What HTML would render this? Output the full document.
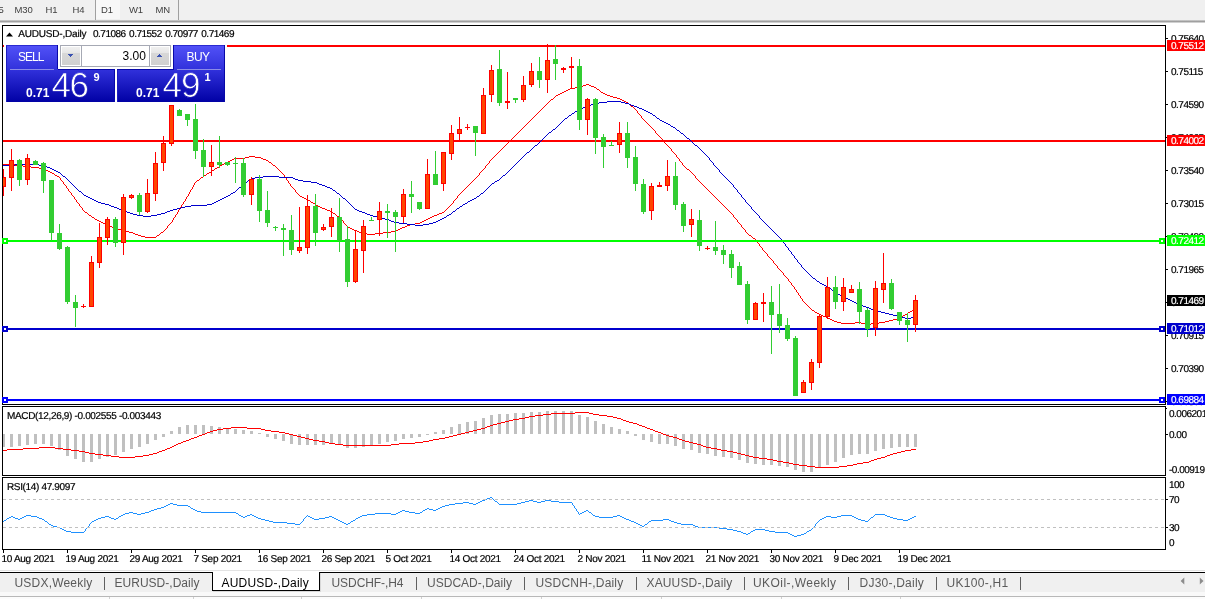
<!DOCTYPE html>
<html><head><meta charset="utf-8"><title>AUDUSD-,Daily</title>
<style>
html,body{margin:0;padding:0;background:#fff;}
body{width:1205px;height:599px;overflow:hidden;position:relative;font-family:"Liberation Sans",sans-serif;}
#toolbar{position:absolute;left:0;top:0;width:1205px;height:20px;background:#f0f0f0;}
#tbline{position:absolute;left:0;top:20px;width:1205px;height:3px;background:linear-gradient(#d4d4d4,#a0a0a0 50%,#e8e8e8);}
.tbt{position:absolute;top:3.6px;font-size:9.5px;line-height:12px;color:#404040;white-space:nowrap;letter-spacing:-0.15px;}
.vsep{position:absolute;top:0;width:1px;height:20px;background:#a0a0a0;}
#d1bg{position:absolute;left:96px;top:0;width:24px;height:19px;background:#f8f8f8;}
svg{position:absolute;left:0;top:0;}
#panelbg{position:absolute;left:4px;top:42px;width:223px;height:61px;background:#fff;}
.pb{position:absolute;background:linear-gradient(#5252f8 0px,#3232dc 24px,#0202a6 56px);background-size:100% 57px;box-shadow:inset 1px 0 0 #1c1cc0;}
.ptxt{position:absolute;color:#fff;white-space:nowrap;}
#tabbar{position:absolute;left:0;top:570px;width:1205px;height:29px;background:#f0f0f0;}
.tab{position:absolute;top:6px;font-size:12px;line-height:14px;color:#5a5a5a;white-space:nowrap;}
.tab.act{color:#000;}
.sep{position:absolute;top:7px;width:1px;height:13px;background:#606060;}
</style></head><body>
<div id="toolbar"><div id="d1bg"></div><i class="vsep" style="left:95px"></i><i class="vsep" style="left:178px"></i><span class="tbt" id="tb0" style="left:-1.6px">5</span><span class="tbt" id="tb1" style="left:14.5px">M30</span><span class="tbt" id="tb2" style="left:45.5px">H1</span><span class="tbt" id="tb3" style="left:72.5px">H4</span><span class="tbt" id="tb4" style="left:101px">D1</span><span class="tbt" id="tb5" style="left:129px">W1</span><span class="tbt" id="tb6" style="left:155.5px">MN</span></div>
<div id="tbline"></div>
<svg width="1205" height="599" viewBox="0 0 1205 599" shape-rendering="crispEdges">
<rect x="2" y="25" width="1164" height="1" fill="#000"/>
<rect x="2" y="404" width="1164" height="1" fill="#000"/>
<rect x="2" y="25" width="1" height="380" fill="#000"/>
<rect x="1165" y="25" width="1" height="380" fill="#000"/>
<rect x="2" y="406" width="1164" height="1" fill="#000"/>
<rect x="2" y="475" width="1164" height="1" fill="#000"/>
<rect x="2" y="406" width="1" height="70" fill="#000"/>
<rect x="1165" y="406" width="1" height="70" fill="#000"/>
<rect x="2" y="477" width="1164" height="1" fill="#000"/>
<rect x="2" y="549" width="1164" height="1" fill="#000"/>
<rect x="2" y="477" width="1" height="73" fill="#000"/>
<rect x="1165" y="477" width="1" height="73" fill="#000"/>
<rect x="3" y="45" width="1162" height="2" fill="#ff0000"/>
<rect x="3" y="140" width="1162" height="2" fill="#ff0000"/>
<path d="M586 84h3v1h-3zM583 85h3v1h-3zM589 85h2v1h-2zM581 86h2v1h-2zM591 86h3v1h-3zM575 87h6v1h-6zM594 87h2v1h-2zM570 88h5v1h-5zM596 88h1v1h-1zM568 89h2v1h-2zM597 89h2v1h-2zM566 90h2v1h-2zM599 90h1v1h-1zM564 91h2v1h-2zM600 91h1v1h-1zM562 92h2v1h-2zM601 92h2v1h-2zM560 93h2v1h-2zM603 93h2v1h-2zM558 94h2v1h-2zM605 94h2v1h-2zM556 95h2v1h-2zM607 95h3v1h-3zM555 96h1v1h-1zM610 96h3v1h-3zM554 97h1v1h-1zM613 97h4v1h-4zM553 98h1v1h-1zM617 98h3v1h-3zM551 99h2v1h-2zM620 99h2v1h-2zM550 100h1v1h-1zM622 100h2v1h-2zM549 101h1v1h-1zM624 101h2v1h-2zM548 102h1v1h-1zM626 102h2v1h-2zM547 103h1v1h-1zM628 103h1v1h-1zM546 104h1v1h-1zM629 104h1v1h-1zM545 105h1v1h-1zM630 105h1v1h-1zM544 106h1v1h-1zM631 106h2v1h-2zM543 107h1v1h-1zM633 107h1v1h-1zM542 108h1v1h-1zM634 108h1v1h-1zM541 109h1v1h-1zM635 109h1v1h-1zM540 110h1v1h-1zM636 110h1v1h-1zM539 111h1v1h-1zM637 111h1v1h-1zM538 112h1v1h-1zM637 112h1v1h-1zM537 113h1v1h-1zM638 113h1v1h-1zM536 114h1v1h-1zM639 114h1v1h-1zM535 115h1v1h-1zM640 115h1v1h-1zM534 116h1v1h-1zM641 116h1v1h-1zM533 117h1v1h-1zM641 117h1v1h-1zM532 118h1v1h-1zM642 118h1v1h-1zM531 119h1v1h-1zM643 119h1v1h-1zM530 120h1v1h-1zM644 120h1v1h-1zM529 121h1v1h-1zM645 121h1v1h-1zM528 122h1v1h-1zM646 122h1v1h-1zM527 123h1v1h-1zM647 123h1v1h-1zM526 124h1v1h-1zM648 124h1v1h-1zM525 125h1v1h-1zM649 125h1v1h-1zM524 126h1v1h-1zM650 126h1v1h-1zM523 127h1v1h-1zM651 127h1v1h-1zM522 128h1v1h-1zM652 128h1v1h-1zM521 129h1v1h-1zM653 129h1v1h-1zM520 130h1v1h-1zM654 130h1v1h-1zM519 131h1v1h-1zM655 131h1v1h-1zM518 132h1v1h-1zM655 132h1v1h-1zM517 133h1v1h-1zM656 133h1v1h-1zM516 134h1v1h-1zM657 134h1v1h-1zM515 135h1v1h-1zM658 135h1v1h-1zM514 136h1v1h-1zM659 136h1v1h-1zM513 137h1v1h-1zM660 137h1v1h-1zM512 138h1v1h-1zM661 138h1v1h-1zM511 139h1v1h-1zM662 139h1v1h-1zM510 140h1v1h-1zM663 140h1v1h-1zM509 141h1v1h-1zM663 141h1v1h-1zM508 142h1v1h-1zM664 142h1v1h-1zM507 143h1v1h-1zM665 143h1v1h-1zM506 144h1v1h-1zM666 144h1v1h-1zM505 145h1v1h-1zM667 145h1v1h-1zM504 146h1v1h-1zM668 146h1v1h-1zM503 147h1v1h-1zM669 147h1v1h-1zM502 148h1v1h-1zM670 148h1v1h-1zM501 149h1v1h-1zM671 149h1v1h-1zM500 150h1v1h-1zM671 150h1v1h-1zM499 151h1v1h-1zM672 151h1v1h-1zM498 152h1v1h-1zM673 152h1v1h-1zM497 153h1v1h-1zM674 153h1v1h-1zM496 154h1v1h-1zM675 154h1v1h-1zM495 155h1v1h-1zM676 155h1v1h-1zM249 156h6v1h-6zM494 156h1v1h-1zM676 156h1v1h-1zM245 157h4v1h-4zM255 157h6v1h-6zM493 157h1v1h-1zM677 157h1v1h-1zM234 158h11v1h-11zM261 158h2v1h-2zM492 158h1v1h-1zM678 158h1v1h-1zM232 159h2v1h-2zM263 159h3v1h-3zM491 159h1v1h-1zM679 159h1v1h-1zM230 160h2v1h-2zM266 160h2v1h-2zM490 160h1v1h-1zM679 160h1v1h-1zM228 161h2v1h-2zM268 161h1v1h-1zM489 161h1v1h-1zM680 161h1v1h-1zM226 162h2v1h-2zM269 162h2v1h-2zM489 162h1v1h-1zM681 162h1v1h-1zM224 163h2v1h-2zM271 163h1v1h-1zM488 163h1v1h-1zM682 163h1v1h-1zM3 164h12v1h-12zM222 164h2v1h-2zM272 164h1v1h-1zM487 164h1v1h-1zM682 164h1v1h-1zM15 165h8v1h-8zM220 165h2v1h-2zM273 165h2v1h-2zM486 165h1v1h-1zM683 165h1v1h-1zM23 166h8v1h-8zM219 166h1v1h-1zM275 166h1v1h-1zM485 166h1v1h-1zM684 166h1v1h-1zM31 167h8v1h-8zM217 167h2v1h-2zM276 167h1v1h-1zM485 167h1v1h-1zM685 167h1v1h-1zM39 168h5v1h-5zM215 168h2v1h-2zM277 168h1v1h-1zM484 168h1v1h-1zM686 168h1v1h-1zM44 169h2v1h-2zM214 169h1v1h-1zM278 169h1v1h-1zM483 169h1v1h-1zM687 169h2v1h-2zM46 170h2v1h-2zM212 170h2v1h-2zM279 170h1v1h-1zM482 170h1v1h-1zM689 170h1v1h-1zM48 171h2v1h-2zM211 171h1v1h-1zM280 171h1v1h-1zM481 171h1v1h-1zM690 171h1v1h-1zM50 172h2v1h-2zM209 172h2v1h-2zM281 172h1v1h-1zM480 172h1v1h-1zM691 172h1v1h-1zM52 173h2v1h-2zM207 173h2v1h-2zM282 173h1v1h-1zM479 173h1v1h-1zM692 173h1v1h-1zM54 174h1v1h-1zM206 174h1v1h-1zM283 174h1v1h-1zM479 174h1v1h-1zM693 174h1v1h-1zM55 175h2v1h-2zM204 175h2v1h-2zM284 175h1v1h-1zM478 175h1v1h-1zM694 175h1v1h-1zM57 176h2v1h-2zM203 176h1v1h-1zM284 176h1v1h-1zM477 176h1v1h-1zM695 176h1v1h-1zM59 177h1v1h-1zM201 177h2v1h-2zM285 177h1v1h-1zM476 177h1v1h-1zM695 177h1v1h-1zM60 178h1v1h-1zM200 178h1v1h-1zM286 178h1v1h-1zM475 178h1v1h-1zM696 178h1v1h-1zM60 179h1v1h-1zM199 179h1v1h-1zM286 179h1v1h-1zM474 179h1v1h-1zM697 179h1v1h-1zM61 180h1v1h-1zM197 180h2v1h-2zM287 180h1v1h-1zM473 180h1v1h-1zM698 180h1v1h-1zM62 181h1v1h-1zM196 181h1v1h-1zM288 181h1v1h-1zM472 181h1v1h-1zM699 181h1v1h-1zM63 182h1v1h-1zM195 182h1v1h-1zM288 182h1v1h-1zM471 182h1v1h-1zM700 182h1v1h-1zM63 183h1v1h-1zM194 183h1v1h-1zM289 183h1v1h-1zM470 183h1v1h-1zM701 183h1v1h-1zM64 184h1v1h-1zM194 184h1v1h-1zM290 184h1v1h-1zM469 184h1v1h-1zM702 184h1v1h-1zM65 185h1v1h-1zM193 185h1v1h-1zM290 185h1v1h-1zM468 185h1v1h-1zM703 185h1v1h-1zM66 186h1v1h-1zM193 186h1v1h-1zM291 186h1v1h-1zM467 186h1v1h-1zM704 186h1v1h-1zM66 187h1v1h-1zM192 187h1v1h-1zM292 187h1v1h-1zM466 187h1v1h-1zM705 187h1v1h-1zM67 188h1v1h-1zM192 188h1v1h-1zM293 188h1v1h-1zM465 188h1v1h-1zM706 188h1v1h-1zM68 189h1v1h-1zM191 189h1v1h-1zM294 189h1v1h-1zM464 189h1v1h-1zM707 189h1v1h-1zM68 190h1v1h-1zM190 190h1v1h-1zM295 190h1v1h-1zM463 190h1v1h-1zM708 190h1v1h-1zM69 191h1v1h-1zM190 191h1v1h-1zM295 191h1v1h-1zM462 191h1v1h-1zM709 191h1v1h-1zM70 192h1v1h-1zM189 192h1v1h-1zM296 192h1v1h-1zM461 192h1v1h-1zM710 192h1v1h-1zM71 193h1v1h-1zM189 193h1v1h-1zM297 193h1v1h-1zM460 193h1v1h-1zM711 193h1v1h-1zM71 194h1v1h-1zM188 194h1v1h-1zM298 194h1v1h-1zM459 194h1v1h-1zM712 194h1v1h-1zM72 195h1v1h-1zM188 195h1v1h-1zM299 195h1v1h-1zM458 195h1v1h-1zM713 195h1v1h-1zM73 196h1v1h-1zM187 196h1v1h-1zM300 196h2v1h-2zM457 196h1v1h-1zM714 196h1v1h-1zM74 197h1v1h-1zM186 197h1v1h-1zM302 197h2v1h-2zM457 197h1v1h-1zM715 197h1v1h-1zM74 198h1v1h-1zM186 198h1v1h-1zM304 198h2v1h-2zM456 198h1v1h-1zM716 198h1v1h-1zM75 199h1v1h-1zM185 199h1v1h-1zM306 199h2v1h-2zM455 199h1v1h-1zM717 199h1v1h-1zM76 200h1v1h-1zM185 200h1v1h-1zM308 200h2v1h-2zM454 200h1v1h-1zM718 200h1v1h-1zM76 201h1v1h-1zM184 201h1v1h-1zM310 201h1v1h-1zM453 201h1v1h-1zM719 201h1v1h-1zM77 202h1v1h-1zM183 202h1v1h-1zM311 202h2v1h-2zM453 202h1v1h-1zM720 202h1v1h-1zM78 203h1v1h-1zM183 203h1v1h-1zM313 203h2v1h-2zM452 203h1v1h-1zM721 203h1v1h-1zM79 204h1v1h-1zM182 204h1v1h-1zM315 204h1v1h-1zM451 204h1v1h-1zM722 204h1v1h-1zM79 205h1v1h-1zM181 205h1v1h-1zM316 205h2v1h-2zM450 205h1v1h-1zM723 205h1v1h-1zM80 206h1v1h-1zM181 206h1v1h-1zM318 206h2v1h-2zM449 206h1v1h-1zM724 206h1v1h-1zM81 207h1v1h-1zM180 207h1v1h-1zM320 207h2v1h-2zM448 207h1v1h-1zM725 207h1v1h-1zM82 208h1v1h-1zM180 208h1v1h-1zM322 208h3v1h-3zM447 208h1v1h-1zM726 208h1v1h-1zM82 209h1v1h-1zM179 209h1v1h-1zM325 209h2v1h-2zM446 209h1v1h-1zM727 209h1v1h-1zM83 210h1v1h-1zM178 210h1v1h-1zM327 210h3v1h-3zM445 210h1v1h-1zM728 210h1v1h-1zM84 211h1v1h-1zM178 211h1v1h-1zM330 211h2v1h-2zM444 211h1v1h-1zM729 211h1v1h-1zM85 212h2v1h-2zM177 212h1v1h-1zM332 212h1v1h-1zM442 212h2v1h-2zM730 212h1v1h-1zM87 213h1v1h-1zM177 213h1v1h-1zM333 213h2v1h-2zM439 213h3v1h-3zM731 213h1v1h-1zM88 214h1v1h-1zM176 214h1v1h-1zM335 214h1v1h-1zM437 214h2v1h-2zM732 214h1v1h-1zM89 215h2v1h-2zM175 215h1v1h-1zM336 215h1v1h-1zM434 215h3v1h-3zM733 215h1v1h-1zM91 216h1v1h-1zM175 216h1v1h-1zM337 216h2v1h-2zM432 216h2v1h-2zM733 216h1v1h-1zM92 217h2v1h-2zM174 217h1v1h-1zM339 217h1v1h-1zM430 217h2v1h-2zM734 217h1v1h-1zM94 218h1v1h-1zM173 218h1v1h-1zM340 218h1v1h-1zM428 218h2v1h-2zM735 218h1v1h-1zM95 219h2v1h-2zM173 219h1v1h-1zM341 219h1v1h-1zM426 219h2v1h-2zM736 219h1v1h-1zM97 220h2v1h-2zM172 220h1v1h-1zM342 220h1v1h-1zM424 220h2v1h-2zM737 220h1v1h-1zM99 221h2v1h-2zM172 221h1v1h-1zM343 221h1v1h-1zM422 221h2v1h-2zM737 221h1v1h-1zM101 222h2v1h-2zM171 222h1v1h-1zM343 222h1v1h-1zM420 222h2v1h-2zM738 222h1v1h-1zM103 223h3v1h-3zM170 223h1v1h-1zM344 223h1v1h-1zM415 223h5v1h-5zM739 223h1v1h-1zM106 224h2v1h-2zM169 224h1v1h-1zM345 224h1v1h-1zM410 224h5v1h-5zM740 224h1v1h-1zM108 225h2v1h-2zM168 225h1v1h-1zM346 225h1v1h-1zM407 225h3v1h-3zM741 225h1v1h-1zM110 226h2v1h-2zM167 226h1v1h-1zM347 226h1v1h-1zM405 226h2v1h-2zM741 226h1v1h-1zM112 227h2v1h-2zM167 227h1v1h-1zM348 227h2v1h-2zM402 227h3v1h-3zM742 227h1v1h-1zM114 228h3v1h-3zM166 228h1v1h-1zM350 228h2v1h-2zM400 228h2v1h-2zM743 228h1v1h-1zM117 229h4v1h-4zM165 229h1v1h-1zM352 229h2v1h-2zM398 229h2v1h-2zM744 229h1v1h-1zM121 230h4v1h-4zM164 230h1v1h-1zM354 230h3v1h-3zM396 230h2v1h-2zM745 230h1v1h-1zM125 231h4v1h-4zM163 231h1v1h-1zM357 231h2v1h-2zM391 231h5v1h-5zM745 231h1v1h-1zM129 232h4v1h-4zM161 232h2v1h-2zM359 232h3v1h-3zM383 232h8v1h-8zM746 232h1v1h-1zM133 233h2v1h-2zM160 233h1v1h-1zM362 233h5v1h-5zM375 233h8v1h-8zM747 233h1v1h-1zM135 234h3v1h-3zM159 234h1v1h-1zM367 234h8v1h-8zM748 234h1v1h-1zM138 235h3v1h-3zM157 235h2v1h-2zM749 235h2v1h-2zM141 236h4v1h-4zM156 236h1v1h-1zM751 236h1v1h-1zM145 237h11v1h-11zM752 237h1v1h-1zM753 238h2v1h-2zM755 239h1v1h-1zM756 240h1v1h-1zM756 241h1v1h-1zM757 242h1v1h-1zM758 243h1v1h-1zM759 244h1v1h-1zM759 245h1v1h-1zM760 246h1v1h-1zM761 247h1v1h-1zM762 248h1v1h-1zM762 249h1v1h-1zM763 250h1v1h-1zM764 251h1v1h-1zM765 252h1v1h-1zM766 253h1v1h-1zM767 254h1v1h-1zM767 255h1v1h-1zM768 256h1v1h-1zM769 257h1v1h-1zM770 258h1v1h-1zM771 259h1v1h-1zM772 260h1v1h-1zM773 261h1v1h-1zM773 262h1v1h-1zM774 263h1v1h-1zM775 264h1v1h-1zM776 265h1v1h-1zM777 266h1v1h-1zM777 267h1v1h-1zM778 268h1v1h-1zM779 269h1v1h-1zM780 270h1v1h-1zM781 271h1v1h-1zM782 272h1v1h-1zM783 273h1v1h-1zM783 274h1v1h-1zM784 275h1v1h-1zM785 276h1v1h-1zM786 277h1v1h-1zM787 278h1v1h-1zM788 279h1v1h-1zM788 280h1v1h-1zM789 281h1v1h-1zM790 282h1v1h-1zM791 283h1v1h-1zM791 284h1v1h-1zM792 285h1v1h-1zM793 286h1v1h-1zM794 287h1v1h-1zM794 288h1v1h-1zM795 289h1v1h-1zM796 290h1v1h-1zM796 291h1v1h-1zM797 292h1v1h-1zM798 293h1v1h-1zM798 294h1v1h-1zM799 295h1v1h-1zM800 296h1v1h-1zM800 297h1v1h-1zM801 298h1v1h-1zM802 299h1v1h-1zM802 300h1v1h-1zM803 301h1v1h-1zM804 302h1v1h-1zM805 303h1v1h-1zM806 304h1v1h-1zM807 305h1v1h-1zM808 306h1v1h-1zM809 307h1v1h-1zM810 308h1v1h-1zM811 309h1v1h-1zM914 309h2v1h-2zM812 310h2v1h-2zM912 310h2v1h-2zM814 311h1v1h-1zM910 311h2v1h-2zM815 312h2v1h-2zM908 312h2v1h-2zM817 313h2v1h-2zM907 313h1v1h-1zM819 314h2v1h-2zM905 314h2v1h-2zM821 315h2v1h-2zM903 315h2v1h-2zM823 316h3v1h-3zM902 316h1v1h-1zM826 317h2v1h-2zM900 317h2v1h-2zM828 318h2v1h-2zM897 318h3v1h-3zM830 319h2v1h-2zM893 319h4v1h-4zM832 320h2v1h-2zM889 320h4v1h-4zM834 321h3v1h-3zM885 321h4v1h-4zM837 322h4v1h-4zM855 322h6v1h-6zM879 322h6v1h-6zM841 323h14v1h-14zM861 323h4v1h-4zM871 323h8v1h-8zM865 324h6v1h-6z" fill="#ff0000"/>
<path d="M607 101h14v1h-14zM599 102h8v1h-8zM621 102h4v1h-4zM594 103h5v1h-5zM625 103h4v1h-4zM591 104h3v1h-3zM629 104h2v1h-2zM589 105h2v1h-2zM631 105h3v1h-3zM586 106h3v1h-3zM634 106h3v1h-3zM583 107h3v1h-3zM637 107h2v1h-2zM581 108h2v1h-2zM639 108h3v1h-3zM579 109h2v1h-2zM642 109h2v1h-2zM577 110h2v1h-2zM644 110h2v1h-2zM575 111h2v1h-2zM646 111h2v1h-2zM574 112h1v1h-1zM648 112h2v1h-2zM572 113h2v1h-2zM650 113h2v1h-2zM571 114h1v1h-1zM652 114h1v1h-1zM569 115h2v1h-2zM653 115h2v1h-2zM568 116h1v1h-1zM655 116h1v1h-1zM567 117h1v1h-1zM656 117h1v1h-1zM565 118h2v1h-2zM657 118h2v1h-2zM564 119h1v1h-1zM659 119h1v1h-1zM563 120h1v1h-1zM660 120h2v1h-2zM562 121h1v1h-1zM662 121h2v1h-2zM561 122h1v1h-1zM664 122h2v1h-2zM560 123h1v1h-1zM666 123h2v1h-2zM559 124h1v1h-1zM668 124h2v1h-2zM558 125h1v1h-1zM670 125h1v1h-1zM557 126h1v1h-1zM671 126h2v1h-2zM556 127h1v1h-1zM673 127h2v1h-2zM555 128h1v1h-1zM675 128h1v1h-1zM553 129h2v1h-2zM676 129h1v1h-1zM552 130h1v1h-1zM677 130h2v1h-2zM551 131h1v1h-1zM679 131h1v1h-1zM549 132h2v1h-2zM680 132h1v1h-1zM548 133h1v1h-1zM681 133h2v1h-2zM547 134h1v1h-1zM683 134h1v1h-1zM546 135h1v1h-1zM684 135h1v1h-1zM545 136h1v1h-1zM685 136h1v1h-1zM544 137h1v1h-1zM686 137h1v1h-1zM543 138h1v1h-1zM687 138h2v1h-2zM542 139h1v1h-1zM689 139h1v1h-1zM541 140h1v1h-1zM690 140h1v1h-1zM540 141h1v1h-1zM691 141h1v1h-1zM539 142h1v1h-1zM692 142h1v1h-1zM538 143h1v1h-1zM693 143h1v1h-1zM537 144h1v1h-1zM694 144h1v1h-1zM535 145h2v1h-2zM695 145h2v1h-2zM534 146h1v1h-1zM697 146h1v1h-1zM533 147h1v1h-1zM698 147h1v1h-1zM532 148h1v1h-1zM699 148h1v1h-1zM531 149h1v1h-1zM700 149h1v1h-1zM530 150h1v1h-1zM701 150h1v1h-1zM529 151h1v1h-1zM702 151h1v1h-1zM527 152h2v1h-2zM703 152h1v1h-1zM526 153h1v1h-1zM704 153h1v1h-1zM525 154h1v1h-1zM705 154h1v1h-1zM524 155h1v1h-1zM706 155h1v1h-1zM523 156h1v1h-1zM707 156h1v1h-1zM522 157h1v1h-1zM708 157h1v1h-1zM521 158h1v1h-1zM709 158h1v1h-1zM520 159h1v1h-1zM709 159h1v1h-1zM519 160h1v1h-1zM710 160h1v1h-1zM518 161h1v1h-1zM711 161h1v1h-1zM517 162h1v1h-1zM712 162h1v1h-1zM516 163h1v1h-1zM713 163h1v1h-1zM15 164h24v1h-24zM515 164h1v1h-1zM713 164h1v1h-1zM3 165h12v1h-12zM39 165h6v1h-6zM514 165h1v1h-1zM714 165h1v1h-1zM45 166h2v1h-2zM513 166h1v1h-1zM715 166h1v1h-1zM47 167h3v1h-3zM512 167h1v1h-1zM716 167h1v1h-1zM50 168h2v1h-2zM511 168h1v1h-1zM717 168h1v1h-1zM52 169h2v1h-2zM510 169h1v1h-1zM718 169h1v1h-1zM54 170h2v1h-2zM509 170h1v1h-1zM719 170h1v1h-1zM56 171h2v1h-2zM508 171h1v1h-1zM719 171h1v1h-1zM58 172h2v1h-2zM507 172h1v1h-1zM720 172h1v1h-1zM60 173h1v1h-1zM506 173h1v1h-1zM721 173h1v1h-1zM61 174h1v1h-1zM505 174h1v1h-1zM722 174h1v1h-1zM62 175h1v1h-1zM503 175h2v1h-2zM723 175h1v1h-1zM63 176h2v1h-2zM263 176h16v1h-16zM502 176h1v1h-1zM724 176h1v1h-1zM65 177h1v1h-1zM255 177h8v1h-8zM279 177h14v1h-14zM501 177h1v1h-1zM725 177h1v1h-1zM66 178h1v1h-1zM251 178h4v1h-4zM293 178h2v1h-2zM500 178h1v1h-1zM726 178h1v1h-1zM67 179h1v1h-1zM249 179h2v1h-2zM295 179h3v1h-3zM499 179h1v1h-1zM727 179h1v1h-1zM68 180h1v1h-1zM248 180h1v1h-1zM298 180h5v1h-5zM497 180h2v1h-2zM728 180h1v1h-1zM69 181h1v1h-1zM247 181h1v1h-1zM303 181h8v1h-8zM495 181h2v1h-2zM729 181h1v1h-1zM70 182h1v1h-1zM245 182h2v1h-2zM311 182h6v1h-6zM494 182h1v1h-1zM730 182h1v1h-1zM71 183h1v1h-1zM244 183h1v1h-1zM317 183h2v1h-2zM492 183h2v1h-2zM731 183h1v1h-1zM72 184h1v1h-1zM243 184h1v1h-1zM319 184h3v1h-3zM491 184h1v1h-1zM732 184h1v1h-1zM73 185h1v1h-1zM242 185h1v1h-1zM322 185h3v1h-3zM490 185h1v1h-1zM733 185h1v1h-1zM74 186h1v1h-1zM241 186h1v1h-1zM325 186h2v1h-2zM489 186h1v1h-1zM733 186h1v1h-1zM75 187h1v1h-1zM239 187h2v1h-2zM327 187h3v1h-3zM488 187h1v1h-1zM734 187h1v1h-1zM76 188h1v1h-1zM238 188h1v1h-1zM330 188h2v1h-2zM487 188h1v1h-1zM735 188h1v1h-1zM77 189h1v1h-1zM237 189h1v1h-1zM332 189h1v1h-1zM486 189h1v1h-1zM736 189h1v1h-1zM78 190h1v1h-1zM236 190h1v1h-1zM333 190h2v1h-2zM485 190h1v1h-1zM737 190h1v1h-1zM79 191h2v1h-2zM235 191h1v1h-1zM335 191h1v1h-1zM484 191h1v1h-1zM737 191h1v1h-1zM81 192h1v1h-1zM233 192h2v1h-2zM336 192h1v1h-1zM483 192h1v1h-1zM738 192h1v1h-1zM82 193h1v1h-1zM231 193h2v1h-2zM337 193h2v1h-2zM481 193h2v1h-2zM739 193h1v1h-1zM83 194h1v1h-1zM230 194h1v1h-1zM339 194h1v1h-1zM480 194h1v1h-1zM740 194h1v1h-1zM84 195h2v1h-2zM228 195h2v1h-2zM340 195h1v1h-1zM479 195h1v1h-1zM741 195h1v1h-1zM86 196h2v1h-2zM226 196h2v1h-2zM341 196h1v1h-1zM477 196h2v1h-2zM741 196h1v1h-1zM88 197h2v1h-2zM224 197h2v1h-2zM342 197h1v1h-1zM476 197h1v1h-1zM742 197h1v1h-1zM90 198h2v1h-2zM222 198h2v1h-2zM343 198h2v1h-2zM474 198h2v1h-2zM743 198h1v1h-1zM92 199h2v1h-2zM220 199h2v1h-2zM345 199h1v1h-1zM472 199h2v1h-2zM744 199h1v1h-1zM94 200h2v1h-2zM218 200h2v1h-2zM346 200h1v1h-1zM470 200h2v1h-2zM745 200h1v1h-1zM96 201h2v1h-2zM216 201h2v1h-2zM347 201h1v1h-1zM468 201h2v1h-2zM745 201h1v1h-1zM98 202h3v1h-3zM214 202h2v1h-2zM348 202h1v1h-1zM467 202h1v1h-1zM746 202h1v1h-1zM101 203h4v1h-4zM212 203h2v1h-2zM349 203h1v1h-1zM465 203h2v1h-2zM747 203h1v1h-1zM105 204h4v1h-4zM207 204h5v1h-5zM350 204h1v1h-1zM463 204h2v1h-2zM748 204h1v1h-1zM109 205h2v1h-2zM191 205h16v1h-16zM351 205h1v1h-1zM462 205h1v1h-1zM749 205h1v1h-1zM111 206h3v1h-3zM185 206h6v1h-6zM352 206h1v1h-1zM460 206h2v1h-2zM750 206h1v1h-1zM114 207h3v1h-3zM181 207h4v1h-4zM353 207h1v1h-1zM459 207h1v1h-1zM751 207h1v1h-1zM117 208h2v1h-2zM177 208h4v1h-4zM354 208h1v1h-1zM457 208h2v1h-2zM751 208h1v1h-1zM119 209h3v1h-3zM173 209h4v1h-4zM355 209h2v1h-2zM456 209h1v1h-1zM752 209h1v1h-1zM122 210h3v1h-3zM170 210h3v1h-3zM357 210h2v1h-2zM455 210h1v1h-1zM753 210h1v1h-1zM125 211h2v1h-2zM167 211h3v1h-3zM359 211h3v1h-3zM453 211h2v1h-2zM754 211h1v1h-1zM127 212h3v1h-3zM165 212h2v1h-2zM362 212h3v1h-3zM452 212h1v1h-1zM755 212h1v1h-1zM130 213h3v1h-3zM161 213h4v1h-4zM365 213h2v1h-2zM451 213h1v1h-1zM756 213h1v1h-1zM133 214h4v1h-4zM157 214h4v1h-4zM367 214h3v1h-3zM449 214h2v1h-2zM757 214h1v1h-1zM137 215h6v1h-6zM151 215h6v1h-6zM370 215h3v1h-3zM447 215h2v1h-2zM758 215h1v1h-1zM143 216h8v1h-8zM373 216h4v1h-4zM446 216h1v1h-1zM759 216h1v1h-1zM377 217h4v1h-4zM444 217h2v1h-2zM759 217h1v1h-1zM381 218h4v1h-4zM442 218h2v1h-2zM760 218h1v1h-1zM385 219h4v1h-4zM440 219h2v1h-2zM761 219h1v1h-1zM389 220h2v1h-2zM438 220h2v1h-2zM762 220h1v1h-1zM391 221h3v1h-3zM436 221h2v1h-2zM763 221h1v1h-1zM394 222h5v1h-5zM433 222h3v1h-3zM764 222h1v1h-1zM399 223h8v1h-8zM429 223h4v1h-4zM765 223h1v1h-1zM407 224h8v1h-8zM423 224h6v1h-6zM766 224h1v1h-1zM415 225h8v1h-8zM767 225h1v1h-1zM768 226h1v1h-1zM769 227h1v1h-1zM770 228h1v1h-1zM771 229h1v1h-1zM772 230h1v1h-1zM773 231h1v1h-1zM774 232h1v1h-1zM775 233h1v1h-1zM776 234h1v1h-1zM777 235h1v1h-1zM778 236h1v1h-1zM779 237h1v1h-1zM780 238h1v1h-1zM781 239h1v1h-1zM781 240h1v1h-1zM782 241h1v1h-1zM783 242h1v1h-1zM784 243h1v1h-1zM785 244h1v1h-1zM785 245h1v1h-1zM786 246h1v1h-1zM787 247h1v1h-1zM788 248h1v1h-1zM788 249h1v1h-1zM789 250h1v1h-1zM790 251h1v1h-1zM791 252h1v1h-1zM791 253h1v1h-1zM792 254h1v1h-1zM793 255h1v1h-1zM794 256h1v1h-1zM794 257h1v1h-1zM795 258h1v1h-1zM796 259h1v1h-1zM797 260h1v1h-1zM797 261h1v1h-1zM798 262h1v1h-1zM799 263h1v1h-1zM800 264h1v1h-1zM801 265h1v1h-1zM801 266h1v1h-1zM802 267h1v1h-1zM803 268h1v1h-1zM804 269h1v1h-1zM805 270h1v1h-1zM806 271h1v1h-1zM807 272h1v1h-1zM808 273h1v1h-1zM809 274h1v1h-1zM810 275h1v1h-1zM811 276h1v1h-1zM812 277h1v1h-1zM813 278h2v1h-2zM815 279h1v1h-1zM816 280h1v1h-1zM817 281h2v1h-2zM819 282h1v1h-1zM820 283h2v1h-2zM822 284h2v1h-2zM824 285h2v1h-2zM826 286h2v1h-2zM828 287h1v1h-1zM829 288h2v1h-2zM831 289h1v1h-1zM832 290h1v1h-1zM833 291h2v1h-2zM835 292h1v1h-1zM836 293h2v1h-2zM838 294h2v1h-2zM840 295h2v1h-2zM842 296h2v1h-2zM844 297h2v1h-2zM846 298h2v1h-2zM848 299h2v1h-2zM850 300h2v1h-2zM852 301h2v1h-2zM854 302h2v1h-2zM856 303h2v1h-2zM858 304h3v1h-3zM861 305h2v1h-2zM863 306h3v1h-3zM866 307h3v1h-3zM869 308h2v1h-2zM871 309h3v1h-3zM874 310h3v1h-3zM877 311h4v1h-4zM881 312h4v1h-4zM885 313h4v1h-4zM889 314h4v1h-4zM893 315h4v1h-4zM897 316h4v1h-4zM901 317h4v1h-4zM911 317h5v1h-5zM905 318h6v1h-6z" fill="#0000cd"/>
<rect x="3" y="240" width="1162" height="2" fill="#00ff00"/>
<rect x="2" y="238" width="6" height="6" fill="#00ff00"/>
<rect x="4" y="240" width="2" height="2" fill="#fff"/>
<rect x="1159" y="238" width="6" height="6" fill="#00ff00"/>
<rect x="1161" y="240" width="2" height="2" fill="#fff"/>
<rect x="3" y="328" width="1162" height="2" fill="#0000cd"/>
<rect x="2" y="326" width="6" height="6" fill="#0000cd"/>
<rect x="4" y="328" width="2" height="2" fill="#fff"/>
<rect x="1159" y="326" width="6" height="6" fill="#0000cd"/>
<rect x="1161" y="328" width="2" height="2" fill="#fff"/>
<rect x="3" y="399" width="1162" height="2" fill="#0000ff"/>
<rect x="2" y="397" width="6" height="6" fill="#0000ff"/>
<rect x="4" y="399" width="2" height="2" fill="#fff"/>
<rect x="1159" y="397" width="6" height="6" fill="#0000ff"/>
<rect x="1161" y="399" width="2" height="2" fill="#fff"/>
<rect x="3" y="169" width="1" height="27" fill="#ff0000"/>
<rect x="3" y="177" width="3" height="10" fill="#ff0000"/>
<rect x="3" y="178" width="2" height="8" fill="#ff4500"/>
<rect x="11" y="149" width="1" height="42" fill="#ff0000"/>
<rect x="9" y="160" width="5" height="18" fill="#ff0000"/>
<rect x="10" y="161" width="3" height="16" fill="#ff4500"/>
<rect x="19" y="159" width="1" height="27" fill="#32cd32"/>
<rect x="17" y="160" width="5" height="20" fill="#32cd32"/>
<rect x="27" y="154" width="1" height="31" fill="#ff0000"/>
<rect x="25" y="158" width="5" height="22" fill="#ff0000"/>
<rect x="26" y="159" width="3" height="20" fill="#ff4500"/>
<rect x="35" y="160" width="1" height="5" fill="#32cd32"/>
<rect x="33" y="161" width="5" height="4" fill="#32cd32"/>
<rect x="43" y="162" width="1" height="31" fill="#32cd32"/>
<rect x="41" y="163" width="5" height="18" fill="#32cd32"/>
<rect x="51" y="180" width="1" height="61" fill="#32cd32"/>
<rect x="49" y="180" width="5" height="53" fill="#32cd32"/>
<rect x="59" y="224" width="1" height="26" fill="#32cd32"/>
<rect x="57" y="233" width="5" height="16" fill="#32cd32"/>
<rect x="67" y="246" width="1" height="58" fill="#32cd32"/>
<rect x="65" y="247" width="5" height="55" fill="#32cd32"/>
<rect x="75" y="295" width="1" height="32" fill="#32cd32"/>
<rect x="73" y="302" width="5" height="6" fill="#32cd32"/>
<rect x="83" y="304" width="1" height="4" fill="#ff0000"/>
<rect x="81" y="306" width="5" height="1" fill="#ff0000"/>
<rect x="91" y="256" width="1" height="51" fill="#ff0000"/>
<rect x="89" y="262" width="5" height="45" fill="#ff0000"/>
<rect x="90" y="263" width="3" height="43" fill="#ff4500"/>
<rect x="99" y="223" width="1" height="45" fill="#ff0000"/>
<rect x="97" y="237" width="5" height="26" fill="#ff0000"/>
<rect x="98" y="238" width="3" height="24" fill="#ff4500"/>
<rect x="107" y="217" width="1" height="28" fill="#ff0000"/>
<rect x="105" y="219" width="5" height="19" fill="#ff0000"/>
<rect x="106" y="220" width="3" height="17" fill="#ff4500"/>
<rect x="115" y="217" width="1" height="30" fill="#32cd32"/>
<rect x="113" y="219" width="5" height="24" fill="#32cd32"/>
<rect x="123" y="194" width="1" height="61" fill="#ff0000"/>
<rect x="121" y="197" width="5" height="46" fill="#ff0000"/>
<rect x="122" y="198" width="3" height="44" fill="#ff4500"/>
<rect x="131" y="194" width="1" height="5" fill="#ff0000"/>
<rect x="129" y="195" width="5" height="3" fill="#ff0000"/>
<rect x="130" y="196" width="3" height="1" fill="#ff4500"/>
<rect x="139" y="193" width="1" height="22" fill="#32cd32"/>
<rect x="137" y="195" width="5" height="17" fill="#32cd32"/>
<rect x="147" y="179" width="1" height="34" fill="#ff0000"/>
<rect x="145" y="193" width="5" height="19" fill="#ff0000"/>
<rect x="146" y="194" width="3" height="17" fill="#ff4500"/>
<rect x="155" y="152" width="1" height="49" fill="#ff0000"/>
<rect x="153" y="163" width="5" height="31" fill="#ff0000"/>
<rect x="154" y="164" width="3" height="29" fill="#ff4500"/>
<rect x="163" y="136" width="1" height="35" fill="#ff0000"/>
<rect x="161" y="143" width="5" height="20" fill="#ff0000"/>
<rect x="162" y="144" width="3" height="18" fill="#ff4500"/>
<rect x="171" y="105" width="1" height="41" fill="#ff0000"/>
<rect x="169" y="105" width="5" height="39" fill="#ff0000"/>
<rect x="170" y="106" width="3" height="37" fill="#ff4500"/>
<rect x="179" y="109" width="1" height="7" fill="#32cd32"/>
<rect x="177" y="110" width="5" height="6" fill="#32cd32"/>
<rect x="187" y="114" width="1" height="12" fill="#32cd32"/>
<rect x="185" y="114" width="5" height="6" fill="#32cd32"/>
<rect x="195" y="104" width="1" height="55" fill="#32cd32"/>
<rect x="193" y="119" width="5" height="32" fill="#32cd32"/>
<rect x="203" y="139" width="1" height="38" fill="#32cd32"/>
<rect x="201" y="150" width="5" height="17" fill="#32cd32"/>
<rect x="211" y="145" width="1" height="31" fill="#ff0000"/>
<rect x="209" y="162" width="5" height="5" fill="#ff0000"/>
<rect x="210" y="163" width="3" height="3" fill="#ff4500"/>
<rect x="219" y="136" width="1" height="32" fill="#32cd32"/>
<rect x="217" y="162" width="5" height="3" fill="#32cd32"/>
<rect x="227" y="162" width="1" height="4" fill="#32cd32"/>
<rect x="225" y="162" width="5" height="3" fill="#32cd32"/>
<rect x="235" y="157" width="1" height="26" fill="#32cd32"/>
<rect x="233" y="163" width="5" height="1" fill="#32cd32"/>
<rect x="243" y="158" width="1" height="39" fill="#32cd32"/>
<rect x="241" y="163" width="5" height="32" fill="#32cd32"/>
<rect x="251" y="177" width="1" height="28" fill="#ff0000"/>
<rect x="249" y="179" width="5" height="16" fill="#ff0000"/>
<rect x="250" y="180" width="3" height="14" fill="#ff4500"/>
<rect x="259" y="175" width="1" height="47" fill="#32cd32"/>
<rect x="257" y="179" width="5" height="32" fill="#32cd32"/>
<rect x="267" y="191" width="1" height="36" fill="#32cd32"/>
<rect x="265" y="210" width="5" height="13" fill="#32cd32"/>
<rect x="275" y="226" width="1" height="5" fill="#32cd32"/>
<rect x="273" y="227" width="5" height="1" fill="#32cd32"/>
<rect x="283" y="224" width="1" height="32" fill="#32cd32"/>
<rect x="281" y="228" width="5" height="2" fill="#32cd32"/>
<rect x="291" y="215" width="1" height="40" fill="#32cd32"/>
<rect x="289" y="230" width="5" height="20" fill="#32cd32"/>
<rect x="299" y="207" width="1" height="46" fill="#ff0000"/>
<rect x="297" y="247" width="5" height="4" fill="#ff0000"/>
<rect x="298" y="248" width="3" height="2" fill="#ff4500"/>
<rect x="307" y="195" width="1" height="59" fill="#ff0000"/>
<rect x="305" y="206" width="5" height="42" fill="#ff0000"/>
<rect x="306" y="207" width="3" height="40" fill="#ff4500"/>
<rect x="315" y="194" width="1" height="52" fill="#32cd32"/>
<rect x="313" y="206" width="5" height="27" fill="#32cd32"/>
<rect x="323" y="224" width="1" height="7" fill="#ff0000"/>
<rect x="321" y="227" width="5" height="3" fill="#ff0000"/>
<rect x="322" y="228" width="3" height="1" fill="#ff4500"/>
<rect x="331" y="208" width="1" height="29" fill="#ff0000"/>
<rect x="329" y="217" width="5" height="10" fill="#ff0000"/>
<rect x="330" y="218" width="3" height="8" fill="#ff4500"/>
<rect x="339" y="198" width="1" height="54" fill="#32cd32"/>
<rect x="337" y="217" width="5" height="24" fill="#32cd32"/>
<rect x="347" y="226" width="1" height="61" fill="#32cd32"/>
<rect x="345" y="239" width="5" height="43" fill="#32cd32"/>
<rect x="355" y="230" width="1" height="53" fill="#ff0000"/>
<rect x="353" y="249" width="5" height="33" fill="#ff0000"/>
<rect x="354" y="250" width="3" height="31" fill="#ff4500"/>
<rect x="363" y="220" width="1" height="53" fill="#ff0000"/>
<rect x="361" y="226" width="5" height="25" fill="#ff0000"/>
<rect x="362" y="227" width="3" height="23" fill="#ff4500"/>
<rect x="371" y="217" width="1" height="4" fill="#32cd32"/>
<rect x="369" y="220" width="5" height="1" fill="#32cd32"/>
<rect x="379" y="202" width="1" height="34" fill="#ff0000"/>
<rect x="377" y="211" width="5" height="9" fill="#ff0000"/>
<rect x="378" y="212" width="3" height="7" fill="#ff4500"/>
<rect x="387" y="204" width="1" height="34" fill="#32cd32"/>
<rect x="385" y="211" width="5" height="2" fill="#32cd32"/>
<rect x="395" y="210" width="1" height="42" fill="#32cd32"/>
<rect x="393" y="212" width="5" height="5" fill="#32cd32"/>
<rect x="403" y="189" width="1" height="34" fill="#ff0000"/>
<rect x="401" y="194" width="5" height="23" fill="#ff0000"/>
<rect x="402" y="195" width="3" height="21" fill="#ff4500"/>
<rect x="411" y="181" width="1" height="32" fill="#32cd32"/>
<rect x="409" y="194" width="5" height="3" fill="#32cd32"/>
<rect x="419" y="202" width="1" height="8" fill="#32cd32"/>
<rect x="417" y="202" width="5" height="7" fill="#32cd32"/>
<rect x="427" y="159" width="1" height="50" fill="#ff0000"/>
<rect x="425" y="174" width="5" height="35" fill="#ff0000"/>
<rect x="426" y="175" width="3" height="33" fill="#ff4500"/>
<rect x="435" y="151" width="1" height="34" fill="#32cd32"/>
<rect x="433" y="174" width="5" height="11" fill="#32cd32"/>
<rect x="443" y="152" width="1" height="39" fill="#ff0000"/>
<rect x="441" y="152" width="5" height="32" fill="#ff0000"/>
<rect x="442" y="153" width="3" height="30" fill="#ff4500"/>
<rect x="451" y="125" width="1" height="35" fill="#ff0000"/>
<rect x="449" y="133" width="5" height="21" fill="#ff0000"/>
<rect x="450" y="134" width="3" height="19" fill="#ff4500"/>
<rect x="459" y="117" width="1" height="23" fill="#ff0000"/>
<rect x="457" y="129" width="5" height="5" fill="#ff0000"/>
<rect x="458" y="130" width="3" height="3" fill="#ff4500"/>
<rect x="467" y="124" width="1" height="6" fill="#ff0000"/>
<rect x="465" y="127" width="5" height="1" fill="#ff0000"/>
<rect x="475" y="126" width="1" height="30" fill="#32cd32"/>
<rect x="473" y="126" width="5" height="7" fill="#32cd32"/>
<rect x="483" y="88" width="1" height="46" fill="#ff0000"/>
<rect x="481" y="95" width="5" height="39" fill="#ff0000"/>
<rect x="482" y="96" width="3" height="37" fill="#ff4500"/>
<rect x="491" y="65" width="1" height="37" fill="#ff0000"/>
<rect x="489" y="70" width="5" height="25" fill="#ff0000"/>
<rect x="490" y="71" width="3" height="23" fill="#ff4500"/>
<rect x="499" y="50" width="1" height="56" fill="#32cd32"/>
<rect x="497" y="69" width="5" height="34" fill="#32cd32"/>
<rect x="507" y="72" width="1" height="37" fill="#ff0000"/>
<rect x="505" y="101" width="5" height="2" fill="#ff0000"/>
<rect x="515" y="98" width="1" height="5" fill="#32cd32"/>
<rect x="513" y="98" width="5" height="2" fill="#32cd32"/>
<rect x="523" y="76" width="1" height="26" fill="#ff0000"/>
<rect x="521" y="85" width="5" height="15" fill="#ff0000"/>
<rect x="522" y="86" width="3" height="13" fill="#ff4500"/>
<rect x="531" y="63" width="1" height="24" fill="#ff0000"/>
<rect x="529" y="71" width="5" height="14" fill="#ff0000"/>
<rect x="530" y="72" width="3" height="12" fill="#ff4500"/>
<rect x="539" y="57" width="1" height="31" fill="#32cd32"/>
<rect x="537" y="71" width="5" height="9" fill="#32cd32"/>
<rect x="547" y="44" width="1" height="49" fill="#ff0000"/>
<rect x="545" y="60" width="5" height="20" fill="#ff0000"/>
<rect x="546" y="61" width="3" height="18" fill="#ff4500"/>
<rect x="555" y="45" width="1" height="35" fill="#32cd32"/>
<rect x="553" y="59" width="5" height="5" fill="#32cd32"/>
<rect x="563" y="67" width="1" height="6" fill="#ff0000"/>
<rect x="561" y="68" width="5" height="2" fill="#ff0000"/>
<rect x="571" y="57" width="1" height="31" fill="#ff0000"/>
<rect x="569" y="66" width="5" height="2" fill="#ff0000"/>
<rect x="579" y="59" width="1" height="71" fill="#32cd32"/>
<rect x="577" y="66" width="5" height="54" fill="#32cd32"/>
<rect x="587" y="98" width="1" height="37" fill="#ff0000"/>
<rect x="585" y="99" width="5" height="21" fill="#ff0000"/>
<rect x="586" y="100" width="3" height="19" fill="#ff4500"/>
<rect x="595" y="98" width="1" height="56" fill="#32cd32"/>
<rect x="593" y="99" width="5" height="39" fill="#32cd32"/>
<rect x="603" y="134" width="1" height="34" fill="#32cd32"/>
<rect x="601" y="137" width="5" height="10" fill="#32cd32"/>
<rect x="611" y="141" width="1" height="5" fill="#32cd32"/>
<rect x="609" y="145" width="5" height="1" fill="#32cd32"/>
<rect x="619" y="122" width="1" height="31" fill="#ff0000"/>
<rect x="617" y="133" width="5" height="12" fill="#ff0000"/>
<rect x="618" y="134" width="3" height="10" fill="#ff4500"/>
<rect x="627" y="122" width="1" height="46" fill="#32cd32"/>
<rect x="625" y="133" width="5" height="25" fill="#32cd32"/>
<rect x="635" y="146" width="1" height="45" fill="#32cd32"/>
<rect x="633" y="157" width="5" height="27" fill="#32cd32"/>
<rect x="643" y="179" width="1" height="35" fill="#32cd32"/>
<rect x="641" y="184" width="5" height="28" fill="#32cd32"/>
<rect x="651" y="183" width="1" height="37" fill="#ff0000"/>
<rect x="649" y="186" width="5" height="25" fill="#ff0000"/>
<rect x="650" y="187" width="3" height="23" fill="#ff4500"/>
<rect x="659" y="182" width="1" height="5" fill="#ff0000"/>
<rect x="657" y="185" width="5" height="2" fill="#ff0000"/>
<rect x="667" y="160" width="1" height="31" fill="#ff0000"/>
<rect x="665" y="176" width="5" height="10" fill="#ff0000"/>
<rect x="666" y="177" width="3" height="8" fill="#ff4500"/>
<rect x="675" y="162" width="1" height="48" fill="#32cd32"/>
<rect x="673" y="176" width="5" height="29" fill="#32cd32"/>
<rect x="683" y="202" width="1" height="30" fill="#32cd32"/>
<rect x="681" y="204" width="5" height="22" fill="#32cd32"/>
<rect x="691" y="209" width="1" height="28" fill="#ff0000"/>
<rect x="689" y="219" width="5" height="6" fill="#ff0000"/>
<rect x="690" y="220" width="3" height="4" fill="#ff4500"/>
<rect x="699" y="210" width="1" height="41" fill="#32cd32"/>
<rect x="697" y="220" width="5" height="26" fill="#32cd32"/>
<rect x="707" y="246" width="1" height="4" fill="#ff0000"/>
<rect x="705" y="248" width="5" height="1" fill="#ff0000"/>
<rect x="715" y="221" width="1" height="34" fill="#32cd32"/>
<rect x="713" y="247" width="5" height="4" fill="#32cd32"/>
<rect x="723" y="245" width="1" height="19" fill="#32cd32"/>
<rect x="721" y="250" width="5" height="5" fill="#32cd32"/>
<rect x="731" y="250" width="1" height="28" fill="#32cd32"/>
<rect x="729" y="254" width="5" height="14" fill="#32cd32"/>
<rect x="739" y="262" width="1" height="23" fill="#32cd32"/>
<rect x="737" y="266" width="5" height="19" fill="#32cd32"/>
<rect x="747" y="281" width="1" height="43" fill="#32cd32"/>
<rect x="745" y="284" width="5" height="36" fill="#32cd32"/>
<rect x="755" y="302" width="1" height="18" fill="#ff0000"/>
<rect x="753" y="303" width="5" height="17" fill="#ff0000"/>
<rect x="754" y="304" width="3" height="15" fill="#ff4500"/>
<rect x="763" y="293" width="1" height="29" fill="#ff0000"/>
<rect x="761" y="302" width="5" height="2" fill="#ff0000"/>
<rect x="771" y="286" width="1" height="68" fill="#32cd32"/>
<rect x="769" y="302" width="5" height="13" fill="#32cd32"/>
<rect x="779" y="284" width="1" height="49" fill="#32cd32"/>
<rect x="777" y="314" width="5" height="12" fill="#32cd32"/>
<rect x="787" y="318" width="1" height="23" fill="#32cd32"/>
<rect x="785" y="325" width="5" height="14" fill="#32cd32"/>
<rect x="795" y="336" width="1" height="60" fill="#32cd32"/>
<rect x="793" y="338" width="5" height="58" fill="#32cd32"/>
<rect x="803" y="380" width="1" height="13" fill="#ff0000"/>
<rect x="801" y="382" width="5" height="11" fill="#ff0000"/>
<rect x="802" y="383" width="3" height="9" fill="#ff4500"/>
<rect x="811" y="359" width="1" height="31" fill="#ff0000"/>
<rect x="809" y="362" width="5" height="21" fill="#ff0000"/>
<rect x="810" y="363" width="3" height="19" fill="#ff4500"/>
<rect x="819" y="315" width="1" height="53" fill="#ff0000"/>
<rect x="817" y="316" width="5" height="47" fill="#ff0000"/>
<rect x="818" y="317" width="3" height="45" fill="#ff4500"/>
<rect x="827" y="277" width="1" height="42" fill="#ff0000"/>
<rect x="825" y="287" width="5" height="30" fill="#ff0000"/>
<rect x="826" y="288" width="3" height="28" fill="#ff4500"/>
<rect x="835" y="276" width="1" height="33" fill="#32cd32"/>
<rect x="833" y="287" width="5" height="15" fill="#32cd32"/>
<rect x="843" y="278" width="1" height="33" fill="#ff0000"/>
<rect x="841" y="287" width="5" height="15" fill="#ff0000"/>
<rect x="842" y="288" width="3" height="13" fill="#ff4500"/>
<rect x="851" y="285" width="1" height="8" fill="#ff0000"/>
<rect x="849" y="289" width="5" height="4" fill="#ff0000"/>
<rect x="850" y="290" width="3" height="2" fill="#ff4500"/>
<rect x="859" y="282" width="1" height="42" fill="#32cd32"/>
<rect x="857" y="289" width="5" height="23" fill="#32cd32"/>
<rect x="867" y="308" width="1" height="29" fill="#32cd32"/>
<rect x="865" y="310" width="5" height="19" fill="#32cd32"/>
<rect x="875" y="281" width="1" height="55" fill="#ff0000"/>
<rect x="873" y="288" width="5" height="40" fill="#ff0000"/>
<rect x="874" y="289" width="3" height="38" fill="#ff4500"/>
<rect x="883" y="253" width="1" height="50" fill="#ff0000"/>
<rect x="881" y="283" width="5" height="7" fill="#ff0000"/>
<rect x="882" y="284" width="3" height="5" fill="#ff4500"/>
<rect x="891" y="279" width="1" height="31" fill="#32cd32"/>
<rect x="889" y="283" width="5" height="26" fill="#32cd32"/>
<rect x="899" y="312" width="1" height="13" fill="#32cd32"/>
<rect x="897" y="312" width="5" height="9" fill="#32cd32"/>
<rect x="907" y="313" width="1" height="29" fill="#32cd32"/>
<rect x="905" y="320" width="5" height="5" fill="#32cd32"/>
<rect x="915" y="295" width="1" height="37" fill="#ff0000"/>
<rect x="913" y="300" width="5" height="25" fill="#ff0000"/>
<rect x="914" y="301" width="3" height="23" fill="#ff4500"/>
<rect x="3" y="434" width="2" height="13" fill="#c0c0c0"/>
<rect x="10" y="434" width="3" height="13" fill="#c0c0c0"/>
<rect x="18" y="434" width="3" height="12" fill="#c0c0c0"/>
<rect x="26" y="434" width="3" height="11" fill="#c0c0c0"/>
<rect x="34" y="434" width="3" height="10" fill="#c0c0c0"/>
<rect x="42" y="434" width="3" height="10" fill="#c0c0c0"/>
<rect x="50" y="434" width="3" height="12" fill="#c0c0c0"/>
<rect x="58" y="434" width="3" height="16" fill="#c0c0c0"/>
<rect x="66" y="434" width="3" height="22" fill="#c0c0c0"/>
<rect x="74" y="434" width="3" height="25" fill="#c0c0c0"/>
<rect x="82" y="434" width="3" height="28" fill="#c0c0c0"/>
<rect x="90" y="434" width="3" height="28" fill="#c0c0c0"/>
<rect x="98" y="434" width="3" height="25" fill="#c0c0c0"/>
<rect x="106" y="434" width="3" height="23" fill="#c0c0c0"/>
<rect x="114" y="434" width="3" height="21" fill="#c0c0c0"/>
<rect x="122" y="434" width="3" height="18" fill="#c0c0c0"/>
<rect x="130" y="434" width="3" height="15" fill="#c0c0c0"/>
<rect x="138" y="434" width="3" height="13" fill="#c0c0c0"/>
<rect x="146" y="434" width="3" height="10" fill="#c0c0c0"/>
<rect x="154" y="434" width="3" height="6" fill="#c0c0c0"/>
<rect x="162" y="434" width="3" height="3" fill="#c0c0c0"/>
<rect x="170" y="431" width="3" height="3" fill="#c0c0c0"/>
<rect x="178" y="427" width="3" height="7" fill="#c0c0c0"/>
<rect x="186" y="425" width="3" height="9" fill="#c0c0c0"/>
<rect x="194" y="425" width="3" height="9" fill="#c0c0c0"/>
<rect x="202" y="425" width="3" height="9" fill="#c0c0c0"/>
<rect x="210" y="426" width="3" height="8" fill="#c0c0c0"/>
<rect x="218" y="427" width="3" height="7" fill="#c0c0c0"/>
<rect x="226" y="428" width="3" height="6" fill="#c0c0c0"/>
<rect x="234" y="429" width="3" height="5" fill="#c0c0c0"/>
<rect x="242" y="430" width="3" height="4" fill="#c0c0c0"/>
<rect x="250" y="431" width="3" height="3" fill="#c0c0c0"/>
<rect x="258" y="433" width="3" height="1" fill="#c0c0c0"/>
<rect x="266" y="434" width="3" height="3" fill="#c0c0c0"/>
<rect x="274" y="434" width="3" height="5" fill="#c0c0c0"/>
<rect x="282" y="434" width="3" height="7" fill="#c0c0c0"/>
<rect x="290" y="434" width="3" height="10" fill="#c0c0c0"/>
<rect x="298" y="434" width="3" height="11" fill="#c0c0c0"/>
<rect x="306" y="434" width="3" height="11" fill="#c0c0c0"/>
<rect x="314" y="434" width="3" height="11" fill="#c0c0c0"/>
<rect x="322" y="434" width="3" height="11" fill="#c0c0c0"/>
<rect x="330" y="434" width="3" height="10" fill="#c0c0c0"/>
<rect x="338" y="434" width="3" height="11" fill="#c0c0c0"/>
<rect x="346" y="434" width="3" height="14" fill="#c0c0c0"/>
<rect x="354" y="434" width="3" height="14" fill="#c0c0c0"/>
<rect x="362" y="434" width="3" height="13" fill="#c0c0c0"/>
<rect x="370" y="434" width="3" height="11" fill="#c0c0c0"/>
<rect x="378" y="434" width="3" height="10" fill="#c0c0c0"/>
<rect x="386" y="434" width="3" height="8" fill="#c0c0c0"/>
<rect x="394" y="434" width="3" height="7" fill="#c0c0c0"/>
<rect x="402" y="434" width="3" height="5" fill="#c0c0c0"/>
<rect x="410" y="434" width="3" height="4" fill="#c0c0c0"/>
<rect x="418" y="434" width="3" height="3" fill="#c0c0c0"/>
<rect x="426" y="434" width="3" height="1" fill="#c0c0c0"/>
<rect x="434" y="432" width="3" height="2" fill="#c0c0c0"/>
<rect x="442" y="430" width="3" height="4" fill="#c0c0c0"/>
<rect x="450" y="427" width="3" height="7" fill="#c0c0c0"/>
<rect x="458" y="424" width="3" height="10" fill="#c0c0c0"/>
<rect x="466" y="422" width="3" height="12" fill="#c0c0c0"/>
<rect x="474" y="421" width="3" height="13" fill="#c0c0c0"/>
<rect x="482" y="418" width="3" height="16" fill="#c0c0c0"/>
<rect x="490" y="415" width="3" height="19" fill="#c0c0c0"/>
<rect x="498" y="414" width="3" height="20" fill="#c0c0c0"/>
<rect x="506" y="414" width="3" height="20" fill="#c0c0c0"/>
<rect x="514" y="413" width="3" height="21" fill="#c0c0c0"/>
<rect x="522" y="413" width="3" height="21" fill="#c0c0c0"/>
<rect x="530" y="412" width="3" height="22" fill="#c0c0c0"/>
<rect x="538" y="412" width="3" height="22" fill="#c0c0c0"/>
<rect x="546" y="411" width="3" height="23" fill="#c0c0c0"/>
<rect x="554" y="411" width="3" height="23" fill="#c0c0c0"/>
<rect x="562" y="411" width="3" height="23" fill="#c0c0c0"/>
<rect x="570" y="411" width="3" height="23" fill="#c0c0c0"/>
<rect x="578" y="415" width="3" height="19" fill="#c0c0c0"/>
<rect x="586" y="417" width="3" height="17" fill="#c0c0c0"/>
<rect x="594" y="421" width="3" height="13" fill="#c0c0c0"/>
<rect x="602" y="424" width="3" height="10" fill="#c0c0c0"/>
<rect x="610" y="427" width="3" height="7" fill="#c0c0c0"/>
<rect x="618" y="429" width="3" height="5" fill="#c0c0c0"/>
<rect x="626" y="431" width="3" height="3" fill="#c0c0c0"/>
<rect x="634" y="434" width="3" height="2" fill="#c0c0c0"/>
<rect x="642" y="434" width="3" height="6" fill="#c0c0c0"/>
<rect x="650" y="434" width="3" height="8" fill="#c0c0c0"/>
<rect x="658" y="434" width="3" height="10" fill="#c0c0c0"/>
<rect x="666" y="434" width="3" height="10" fill="#c0c0c0"/>
<rect x="674" y="434" width="3" height="12" fill="#c0c0c0"/>
<rect x="682" y="434" width="3" height="15" fill="#c0c0c0"/>
<rect x="690" y="434" width="3" height="16" fill="#c0c0c0"/>
<rect x="698" y="434" width="3" height="19" fill="#c0c0c0"/>
<rect x="706" y="434" width="3" height="20" fill="#c0c0c0"/>
<rect x="714" y="434" width="3" height="22" fill="#c0c0c0"/>
<rect x="722" y="434" width="3" height="23" fill="#c0c0c0"/>
<rect x="730" y="434" width="3" height="24" fill="#c0c0c0"/>
<rect x="738" y="434" width="3" height="26" fill="#c0c0c0"/>
<rect x="746" y="434" width="3" height="29" fill="#c0c0c0"/>
<rect x="754" y="434" width="3" height="30" fill="#c0c0c0"/>
<rect x="762" y="434" width="3" height="31" fill="#c0c0c0"/>
<rect x="770" y="434" width="3" height="31" fill="#c0c0c0"/>
<rect x="778" y="434" width="3" height="32" fill="#c0c0c0"/>
<rect x="786" y="434" width="3" height="33" fill="#c0c0c0"/>
<rect x="794" y="434" width="3" height="36" fill="#c0c0c0"/>
<rect x="802" y="434" width="3" height="38" fill="#c0c0c0"/>
<rect x="810" y="434" width="3" height="38" fill="#c0c0c0"/>
<rect x="818" y="434" width="3" height="34" fill="#c0c0c0"/>
<rect x="826" y="434" width="3" height="31" fill="#c0c0c0"/>
<rect x="834" y="434" width="3" height="28" fill="#c0c0c0"/>
<rect x="842" y="434" width="3" height="24" fill="#c0c0c0"/>
<rect x="850" y="434" width="3" height="21" fill="#c0c0c0"/>
<rect x="858" y="434" width="3" height="20" fill="#c0c0c0"/>
<rect x="866" y="434" width="3" height="20" fill="#c0c0c0"/>
<rect x="874" y="434" width="3" height="17" fill="#c0c0c0"/>
<rect x="882" y="434" width="3" height="15" fill="#c0c0c0"/>
<rect x="890" y="434" width="3" height="14" fill="#c0c0c0"/>
<rect x="898" y="434" width="3" height="13" fill="#c0c0c0"/>
<rect x="906" y="434" width="3" height="13" fill="#c0c0c0"/>
<rect x="914" y="434" width="3" height="13" fill="#c0c0c0"/>
<path d="M575 412h14v1h-14zM551 413h24v1h-24zM589 413h4v1h-4zM543 414h8v1h-8zM593 414h6v1h-6zM535 415h8v1h-8zM599 415h8v1h-8zM529 416h6v1h-6zM607 416h6v1h-6zM525 417h4v1h-4zM613 417h4v1h-4zM519 418h6v1h-6zM617 418h4v1h-4zM513 419h6v1h-6zM621 419h2v1h-2zM509 420h4v1h-4zM623 420h3v1h-3zM505 421h4v1h-4zM626 421h3v1h-3zM501 422h4v1h-4zM629 422h4v1h-4zM497 423h4v1h-4zM633 423h4v1h-4zM493 424h4v1h-4zM637 424h2v1h-2zM490 425h3v1h-3zM639 425h3v1h-3zM487 426h3v1h-3zM642 426h3v1h-3zM231 427h16v1h-16zM485 427h2v1h-2zM645 427h2v1h-2zM223 428h8v1h-8zM247 428h14v1h-14zM481 428h4v1h-4zM647 428h3v1h-3zM217 429h6v1h-6zM261 429h4v1h-4zM477 429h4v1h-4zM650 429h3v1h-3zM213 430h4v1h-4zM265 430h6v1h-6zM473 430h4v1h-4zM653 430h2v1h-2zM210 431h3v1h-3zM271 431h8v1h-8zM469 431h4v1h-4zM655 431h3v1h-3zM207 432h3v1h-3zM279 432h6v1h-6zM465 432h4v1h-4zM658 432h3v1h-3zM205 433h2v1h-2zM285 433h4v1h-4zM461 433h4v1h-4zM661 433h2v1h-2zM202 434h3v1h-3zM289 434h4v1h-4zM457 434h4v1h-4zM663 434h3v1h-3zM199 435h3v1h-3zM293 435h4v1h-4zM453 435h4v1h-4zM666 435h3v1h-3zM197 436h2v1h-2zM297 436h4v1h-4zM449 436h4v1h-4zM669 436h4v1h-4zM194 437h3v1h-3zM301 437h4v1h-4zM445 437h4v1h-4zM673 437h4v1h-4zM191 438h3v1h-3zM305 438h4v1h-4zM439 438h6v1h-6zM677 438h2v1h-2zM189 439h2v1h-2zM309 439h4v1h-4zM433 439h6v1h-6zM679 439h3v1h-3zM186 440h3v1h-3zM313 440h6v1h-6zM429 440h4v1h-4zM682 440h3v1h-3zM183 441h3v1h-3zM319 441h6v1h-6zM423 441h6v1h-6zM685 441h4v1h-4zM181 442h2v1h-2zM325 442h4v1h-4zM415 442h8v1h-8zM689 442h4v1h-4zM178 443h3v1h-3zM329 443h6v1h-6zM399 443h16v1h-16zM693 443h4v1h-4zM176 444h2v1h-2zM335 444h8v1h-8zM391 444h8v1h-8zM697 444h4v1h-4zM174 445h2v1h-2zM343 445h48v1h-48zM701 445h2v1h-2zM172 446h2v1h-2zM703 446h3v1h-3zM39 447h16v1h-16zM170 447h2v1h-2zM706 447h5v1h-5zM23 448h16v1h-16zM55 448h8v1h-8zM167 448h3v1h-3zM711 448h6v1h-6zM7 449h16v1h-16zM63 449h8v1h-8zM165 449h2v1h-2zM717 449h4v1h-4zM911 449h5v1h-5zM3 450h4v1h-4zM71 450h8v1h-8zM162 450h3v1h-3zM721 450h6v1h-6zM905 450h6v1h-6zM79 451h6v1h-6zM159 451h3v1h-3zM727 451h6v1h-6zM901 451h4v1h-4zM85 452h4v1h-4zM157 452h2v1h-2zM733 452h4v1h-4zM897 452h4v1h-4zM89 453h6v1h-6zM153 453h4v1h-4zM737 453h4v1h-4zM893 453h4v1h-4zM95 454h8v1h-8zM149 454h4v1h-4zM741 454h4v1h-4zM890 454h3v1h-3zM103 455h8v1h-8zM143 455h6v1h-6zM745 455h4v1h-4zM887 455h3v1h-3zM111 456h8v1h-8zM135 456h8v1h-8zM749 456h4v1h-4zM885 456h2v1h-2zM119 457h16v1h-16zM753 457h6v1h-6zM881 457h4v1h-4zM759 458h8v1h-8zM877 458h4v1h-4zM767 459h6v1h-6zM874 459h3v1h-3zM773 460h4v1h-4zM871 460h3v1h-3zM777 461h6v1h-6zM869 461h2v1h-2zM783 462h6v1h-6zM863 462h6v1h-6zM789 463h4v1h-4zM857 463h6v1h-6zM793 464h6v1h-6zM853 464h4v1h-4zM799 465h8v1h-8zM847 465h6v1h-6zM807 466h8v1h-8zM839 466h8v1h-8zM815 467h24v1h-24z" fill="#ff0000"/>
<path d="M490 497h2v1h-2zM487 498h3v1h-3zM492 498h1v1h-1zM485 499h2v1h-2zM493 499h1v1h-1zM482 500h3v1h-3zM494 500h1v1h-1zM529 500h4v1h-4zM545 500h6v1h-6zM480 501h2v1h-2zM495 501h2v1h-2zM525 501h4v1h-4zM533 501h4v1h-4zM541 501h4v1h-4zM551 501h8v1h-8zM463 502h6v1h-6zM478 502h2v1h-2zM497 502h1v1h-1zM521 502h4v1h-4zM537 502h4v1h-4zM559 502h13v1h-13zM170 503h3v1h-3zM455 503h8v1h-8zM469 503h4v1h-4zM476 503h2v1h-2zM498 503h1v1h-1zM517 503h4v1h-4zM572 503h1v1h-1zM168 504h2v1h-2zM173 504h4v1h-4zM449 504h6v1h-6zM473 504h3v1h-3zM499 504h18v1h-18zM572 504h1v1h-1zM166 505h2v1h-2zM177 505h11v1h-11zM445 505h4v1h-4zM573 505h1v1h-1zM164 506h2v1h-2zM188 506h2v1h-2zM442 506h3v1h-3zM574 506h1v1h-1zM161 507h3v1h-3zM190 507h1v1h-1zM440 507h2v1h-2zM574 507h1v1h-1zM157 508h4v1h-4zM191 508h2v1h-2zM427 508h2v1h-2zM438 508h2v1h-2zM575 508h1v1h-1zM154 509h3v1h-3zM193 509h2v1h-2zM425 509h2v1h-2zM429 509h4v1h-4zM436 509h2v1h-2zM576 509h1v1h-1zM151 510h3v1h-3zM195 510h2v1h-2zM402 510h3v1h-3zM423 510h2v1h-2zM433 510h3v1h-3zM576 510h1v1h-1zM586 510h2v1h-2zM149 511h2v1h-2zM197 511h4v1h-4zM400 511h2v1h-2zM405 511h4v1h-4zM422 511h1v1h-1zM577 511h1v1h-1zM584 511h2v1h-2zM588 511h1v1h-1zM129 512h4v1h-4zM145 512h4v1h-4zM201 512h35v1h-35zM398 512h2v1h-2zM409 512h6v1h-6zM420 512h2v1h-2zM578 512h1v1h-1zM582 512h2v1h-2zM589 512h2v1h-2zM125 513h4v1h-4zM133 513h4v1h-4zM141 513h4v1h-4zM236 513h2v1h-2zM375 513h16v1h-16zM396 513h2v1h-2zM415 513h5v1h-5zM578 513h1v1h-1zM580 513h2v1h-2zM591 513h1v1h-1zM123 514h2v1h-2zM137 514h4v1h-4zM238 514h1v1h-1zM250 514h2v1h-2zM367 514h8v1h-8zM391 514h5v1h-5zM579 514h1v1h-1zM592 514h1v1h-1zM875 514h10v1h-10zM26 515h5v1h-5zM121 515h2v1h-2zM239 515h2v1h-2zM247 515h3v1h-3zM252 515h2v1h-2zM307 515h1v1h-1zM362 515h5v1h-5zM593 515h2v1h-2zM617 515h3v1h-3zM841 515h11v1h-11zM874 515h1v1h-1zM885 515h2v1h-2zM11 516h2v1h-2zM24 516h2v1h-2zM31 516h6v1h-6zM105 516h4v1h-4zM119 516h2v1h-2zM241 516h2v1h-2zM245 516h2v1h-2zM254 516h2v1h-2zM306 516h1v1h-1zM308 516h2v1h-2zM329 516h3v1h-3zM360 516h2v1h-2zM595 516h4v1h-4zM613 516h4v1h-4zM620 516h2v1h-2zM826 516h5v1h-5zM837 516h4v1h-4zM852 516h2v1h-2zM873 516h1v1h-1zM887 516h3v1h-3zM914 516h2v1h-2zM9 517h2v1h-2zM13 517h2v1h-2zM22 517h2v1h-2zM37 517h2v1h-2zM101 517h4v1h-4zM109 517h2v1h-2zM118 517h1v1h-1zM243 517h2v1h-2zM256 517h2v1h-2zM305 517h1v1h-1zM310 517h2v1h-2zM325 517h4v1h-4zM332 517h2v1h-2zM358 517h2v1h-2zM599 517h14v1h-14zM622 517h2v1h-2zM824 517h2v1h-2zM831 517h6v1h-6zM854 517h2v1h-2zM871 517h2v1h-2zM890 517h3v1h-3zM912 517h2v1h-2zM7 518h2v1h-2zM15 518h3v1h-3zM20 518h2v1h-2zM39 518h3v1h-3zM98 518h3v1h-3zM111 518h3v1h-3zM116 518h2v1h-2zM258 518h3v1h-3zM304 518h1v1h-1zM312 518h2v1h-2zM319 518h6v1h-6zM334 518h2v1h-2zM356 518h2v1h-2zM624 518h2v1h-2zM822 518h2v1h-2zM856 518h2v1h-2zM870 518h1v1h-1zM893 518h4v1h-4zM910 518h2v1h-2zM6 519h1v1h-1zM18 519h2v1h-2zM42 519h2v1h-2zM96 519h2v1h-2zM114 519h2v1h-2zM261 519h4v1h-4zM303 519h1v1h-1zM314 519h5v1h-5zM336 519h2v1h-2zM355 519h1v1h-1zM626 519h3v1h-3zM663 519h6v1h-6zM820 519h2v1h-2zM858 519h3v1h-3zM869 519h1v1h-1zM897 519h6v1h-6zM908 519h2v1h-2zM4 520h2v1h-2zM44 520h1v1h-1zM94 520h2v1h-2zM265 520h4v1h-4zM303 520h1v1h-1zM338 520h2v1h-2zM353 520h2v1h-2zM629 520h2v1h-2zM651 520h12v1h-12zM669 520h2v1h-2zM819 520h1v1h-1zM861 520h4v1h-4zM868 520h1v1h-1zM903 520h5v1h-5zM3 521h1v1h-1zM45 521h2v1h-2zM92 521h2v1h-2zM269 521h4v1h-4zM302 521h1v1h-1zM340 521h2v1h-2zM351 521h2v1h-2zM631 521h3v1h-3zM649 521h2v1h-2zM671 521h3v1h-3zM818 521h1v1h-1zM865 521h3v1h-3zM47 522h1v1h-1zM91 522h1v1h-1zM273 522h14v1h-14zM301 522h1v1h-1zM342 522h2v1h-2zM350 522h1v1h-1zM634 522h2v1h-2zM648 522h1v1h-1zM674 522h3v1h-3zM817 522h1v1h-1zM48 523h1v1h-1zM90 523h1v1h-1zM287 523h8v1h-8zM300 523h1v1h-1zM344 523h2v1h-2zM348 523h2v1h-2zM636 523h2v1h-2zM647 523h1v1h-1zM677 523h4v1h-4zM816 523h1v1h-1zM49 524h2v1h-2zM89 524h1v1h-1zM295 524h5v1h-5zM346 524h2v1h-2zM638 524h2v1h-2zM645 524h2v1h-2zM681 524h12v1h-12zM815 524h1v1h-1zM51 525h2v1h-2zM89 525h1v1h-1zM640 525h2v1h-2zM644 525h1v1h-1zM693 525h2v1h-2zM815 525h1v1h-1zM53 526h4v1h-4zM88 526h1v1h-1zM642 526h2v1h-2zM695 526h3v1h-3zM814 526h1v1h-1zM57 527h3v1h-3zM87 527h1v1h-1zM698 527h21v1h-21zM813 527h1v1h-1zM60 528h2v1h-2zM86 528h1v1h-1zM719 528h8v1h-8zM812 528h1v1h-1zM62 529h2v1h-2zM85 529h1v1h-1zM727 529h6v1h-6zM755 529h10v1h-10zM811 529h1v1h-1zM64 530h2v1h-2zM85 530h1v1h-1zM733 530h4v1h-4zM753 530h2v1h-2zM765 530h4v1h-4zM809 530h2v1h-2zM66 531h5v1h-5zM84 531h1v1h-1zM737 531h4v1h-4zM751 531h2v1h-2zM769 531h6v1h-6zM807 531h2v1h-2zM71 532h13v1h-13zM741 532h2v1h-2zM750 532h1v1h-1zM775 532h13v1h-13zM806 532h1v1h-1zM743 533h3v1h-3zM748 533h2v1h-2zM788 533h2v1h-2zM804 533h2v1h-2zM746 534h2v1h-2zM790 534h2v1h-2zM801 534h3v1h-3zM792 535h2v1h-2zM797 535h4v1h-4zM794 536h3v1h-3z" fill="#1e90ff"/>
<line x1="3" y1="499.5" x2="1165" y2="499.5" stroke="#c0c0c0" stroke-width="1" stroke-dasharray="3,3"/>
<line x1="3" y1="527.5" x2="1165" y2="527.5" stroke="#c0c0c0" stroke-width="1" stroke-dasharray="3,3"/>
<rect x="1166" y="38" width="2" height="1" fill="#000"/>
<rect x="1166" y="71" width="2" height="1" fill="#000"/>
<rect x="1166" y="104" width="2" height="1" fill="#000"/>
<rect x="1166" y="137" width="2" height="1" fill="#000"/>
<rect x="1166" y="170" width="2" height="1" fill="#000"/>
<rect x="1166" y="203" width="2" height="1" fill="#000"/>
<rect x="1166" y="236" width="2" height="1" fill="#000"/>
<rect x="1166" y="269" width="2" height="1" fill="#000"/>
<rect x="1166" y="302" width="2" height="1" fill="#000"/>
<rect x="1166" y="335" width="2" height="1" fill="#000"/>
<rect x="1166" y="368" width="2" height="1" fill="#000"/>
<rect x="1166" y="401" width="2" height="1" fill="#000"/>
<rect x="1166" y="302" width="1" height="1" fill="#000"/>
<rect x="1166" y="408" width="1" height="1" fill="#000"/>
<rect x="1166" y="434" width="2" height="1" fill="#000"/>
<rect x="1166" y="499" width="2" height="1" fill="#000"/>
<rect x="1166" y="527" width="2" height="1" fill="#000"/>
<rect x="3" y="550" width="1" height="3" fill="#000"/>
<rect x="67" y="550" width="1" height="3" fill="#000"/>
<rect x="131" y="550" width="1" height="3" fill="#000"/>
<rect x="195" y="550" width="1" height="3" fill="#000"/>
<rect x="259" y="550" width="1" height="3" fill="#000"/>
<rect x="323" y="550" width="1" height="3" fill="#000"/>
<rect x="387" y="550" width="1" height="3" fill="#000"/>
<rect x="451" y="550" width="1" height="3" fill="#000"/>
<rect x="515" y="550" width="1" height="3" fill="#000"/>
<rect x="579" y="550" width="1" height="3" fill="#000"/>
<rect x="643" y="550" width="1" height="3" fill="#000"/>
<rect x="707" y="550" width="1" height="3" fill="#000"/>
<rect x="771" y="550" width="1" height="3" fill="#000"/>
<rect x="835" y="550" width="1" height="3" fill="#000"/>
<rect x="899" y="550" width="1" height="3" fill="#000"/>
<g font-family="Liberation Sans, sans-serif" font-size="10" letter-spacing="-0.5" shape-rendering="auto" stroke-width="0.2" text-rendering="geometricPrecision">
<text x="1171" y="42" fill="#000" stroke="#000" >0.75640</text>
<text x="1171" y="75" fill="#000" stroke="#000" >0.75115</text>
<text x="1171" y="108" fill="#000" stroke="#000" >0.74590</text>
<text x="1171" y="141" fill="#000" stroke="#000" >0.74065</text>
<text x="1171" y="174" fill="#000" stroke="#000" >0.73540</text>
<text x="1171" y="207" fill="#000" stroke="#000" >0.73015</text>
<text x="1171" y="240" fill="#000" stroke="#000" >0.72490</text>
<text x="1171" y="273" fill="#000" stroke="#000" >0.71965</text>
<text x="1171" y="306" fill="#000" stroke="#000" >0.71440</text>
<text x="1171" y="339" fill="#000" stroke="#000" >0.70915</text>
<text x="1171" y="372" fill="#000" stroke="#000" >0.70390</text>
<text x="1171" y="405" fill="#000" stroke="#000" >0.69865</text>
<rect x="1167" y="40" width="38" height="11" fill="#ff0000"/>
<text x="1171" y="49" fill="#fff" stroke="#fff" >0.75512</text>
<rect x="1167" y="135" width="38" height="11" fill="#ff0000"/>
<text x="1171" y="144" fill="#fff" stroke="#fff" >0.74002</text>
<rect x="1167" y="235" width="38" height="11" fill="#00ff00"/>
<text x="1171" y="244" fill="#fff" stroke="#fff" >0.72412</text>
<rect x="1167" y="295" width="38" height="11" fill="#000"/>
<text x="1171" y="304" fill="#fff" stroke="#fff" >0.71469</text>
<rect x="1167" y="323" width="38" height="11" fill="#0000cd"/>
<text x="1171" y="332" fill="#fff" stroke="#fff" >0.71012</text>
<rect x="1167" y="394" width="38" height="11" fill="#0000ff"/>
<text x="1171" y="403" fill="#fff" stroke="#fff" >0.69884</text>
<text x="1169" y="417" fill="#000" stroke="#000" >0.006201</text>
<text x="1169" y="438" fill="#000" stroke="#000" >0.00</text>
<text x="1169" y="473" fill="#000" stroke="#000" >-0.00919</text>
<text x="1169" y="488" fill="#000" stroke="#000" >100</text>
<text x="1169" y="503" fill="#000" stroke="#000" >70</text>
<text x="1169" y="531" fill="#000" stroke="#000" >30</text>
<text x="1169" y="546" fill="#000" stroke="#000" >0</text>
<text x="1.4" y="562" fill="#000" stroke="#000" letter-spacing="-0.27">10 Aug 2021</text>
<text x="65.4" y="562" fill="#000" stroke="#000" letter-spacing="-0.27">19 Aug 2021</text>
<text x="129.4" y="562" fill="#000" stroke="#000" letter-spacing="-0.27">29 Aug 2021</text>
<text x="193.4" y="562" fill="#000" stroke="#000" letter-spacing="-0.27">7 Sep 2021</text>
<text x="257.4" y="562" fill="#000" stroke="#000" letter-spacing="-0.27">16 Sep 2021</text>
<text x="321.4" y="562" fill="#000" stroke="#000" letter-spacing="-0.27">26 Sep 2021</text>
<text x="385.4" y="562" fill="#000" stroke="#000" letter-spacing="-0.27">5 Oct 2021</text>
<text x="449.4" y="562" fill="#000" stroke="#000" letter-spacing="-0.27">14 Oct 2021</text>
<text x="513.4" y="562" fill="#000" stroke="#000" letter-spacing="-0.27">24 Oct 2021</text>
<text x="577.4" y="562" fill="#000" stroke="#000" letter-spacing="-0.27">2 Nov 2021</text>
<text x="641.4" y="562" fill="#000" stroke="#000" letter-spacing="-0.27">11 Nov 2021</text>
<text x="705.4" y="562" fill="#000" stroke="#000" letter-spacing="-0.27">21 Nov 2021</text>
<text x="769.4" y="562" fill="#000" stroke="#000" letter-spacing="-0.27">30 Nov 2021</text>
<text x="833.4" y="562" fill="#000" stroke="#000" letter-spacing="-0.27">9 Dec 2021</text>
<text x="897.4" y="562" fill="#000" stroke="#000" letter-spacing="-0.27">19 Dec 2021</text>
<text x="18.3" y="37" fill="#000" stroke="#000" letter-spacing="-0.2">AUDUSD-,Daily</text>
<text x="93.0" y="37" fill="#000" stroke="#000" >0.71086</text>
<text x="129.1" y="37" fill="#000" stroke="#000" >0.71552</text>
<text x="165.2" y="37" fill="#000" stroke="#000" >0.70977</text>
<text x="201.3" y="37" fill="#000" stroke="#000" >0.71469</text>
<text x="7" y="419" fill="#000" stroke="#000" letter-spacing="-0.34">MACD(12,26,9) -0.002555 -0.003443</text>
<text x="7" y="490" fill="#000" stroke="#000" letter-spacing="-0.35">RSI(14) 47.9097</text>
</g>
<polygon points="6,36.5 13,36.5 9.5,32.5" fill="#000" shape-rendering="auto"/>
</svg>
<div id="panelbg"></div>
<div class="pb" style="left:6px;top:45px;width:52px;height:24px;background-position:0 0"></div>
<div class="pb" style="left:6px;top:69px;width:109px;height:33px;background-position:0 -24px"></div>
<div class="pb" style="left:173px;top:45px;width:52px;height:24px;background-position:0 0"></div>
<div class="pb" style="left:117px;top:69px;width:108px;height:33px;background-position:0 -24px"></div>
<div style="position:absolute;left:6px;top:45px;width:52px;height:1px;background:#2a2ad0"></div><div style="position:absolute;left:173px;top:45px;width:52px;height:1px;background:#2a2ad0"></div>
<div style="position:absolute;left:10px;top:69px;width:44px;height:1px;background:#8c8ce6"></div>
<div style="position:absolute;left:177px;top:69px;width:44px;height:1px;background:#8c8ce6"></div>
<div id="spin" style="position:absolute;left:60px;top:45px;width:109px;height:20px;border:1px solid #a6a9b4;background:#fff"></div>
<div style="position:absolute;left:62px;top:47px;width:18px;height:18px;background:linear-gradient(#f0f0f0 0,#e6e6e6 6px,#d8d8d8 6px,#d0d0d0 18px)"></div>
<div style="position:absolute;left:81px;top:46px;width:1px;height:20px;background:#a6a9b4"></div>
<div style="position:absolute;left:151px;top:47px;width:18px;height:18px;background:linear-gradient(#f0f0f0 0,#e6e6e6 6px,#d8d8d8 6px,#d0d0d0 18px)"></div>
<div style="position:absolute;left:149px;top:46px;width:1px;height:20px;background:#a6a9b4"></div>
<svg width="1205" height="110" viewBox="0 0 1205 110" shape-rendering="crispEdges"><path d="M68 54h5v1h-5zM69 55h3v1h-3zM70 56h1v1h-1z" fill="#3a52b0"/><path d="M159 54h1v1h-1zM158 55h3v1h-3zM157 56h5v1h-5z" fill="#3a52b0"/></svg>
<div style="position:absolute;left:57px;top:45px;width:1px;height:24px;background:#0808a8"></div>
<div style="position:absolute;left:58px;top:69px;width:57px;height:1px;background:#0808a8"></div>
<div style="position:absolute;left:173px;top:45px;width:1px;height:24px;background:#0808a8"></div>
<div style="position:absolute;left:117px;top:69px;width:57px;height:1px;background:#0808a8"></div>
<div style="position:absolute;left:114px;top:69px;width:1px;height:33px;background:#0808a8"></div>
<div style="position:absolute;left:224px;top:45px;width:1px;height:57px;background:#0808a8"></div>
<svg width="1205" height="110" viewBox="0 0 1205 110"><defs><linearGradient id="pg" gradientUnits="userSpaceOnUse" x1="0" y1="45" x2="0" y2="101"><stop offset="0" stop-color="#5252f8"/><stop offset="0.4286" stop-color="#3232dc"/><stop offset="1" stop-color="#0202a6"/></linearGradient></defs>
<g font-family="Liberation Sans, sans-serif" font-size="35" fill="#fff" stroke="url(#pg)" stroke-width="0.7" text-rendering="geometricPrecision"><text x="51.4" y="97.3" letter-spacing="-1.4">46</text><text x="162.6" y="97.3" letter-spacing="-1">49</text></g></svg>
<span class="ptxt" id="sell" style="left:18px;top:49.7px;font-size:12px;line-height:14px;letter-spacing:-1px">SELL</span>
<span class="ptxt" id="buy" style="left:186.5px;top:49.7px;font-size:12px;line-height:14px;letter-spacing:-0.6px">BUY</span>
<span class="ptxt" id="vol" style="left:122.5px;top:49.4px;font-size:12px;line-height:14px;color:#000">3.00</span>
<span class="ptxt" id="s1" style="left:26px;top:86px;font-size:12px;line-height:14px;font-weight:bold">0.71</span>
<span class="ptxt" id="s3" style="left:93.5px;top:70px;font-size:11px;line-height:14px;font-weight:bold">9</span>
<span class="ptxt" id="b1" style="left:136px;top:86px;font-size:12px;line-height:14px;font-weight:bold">0.71</span>
<span class="ptxt" id="b3" style="left:204.5px;top:70px;font-size:11px;line-height:14px;font-weight:bold">1</span>
<div id="tabbar">
<div style="position:absolute;left:0;top:0;width:1205px;height:1px;background:#e3e3e3"></div>
<div style="position:absolute;left:0;top:1px;width:1205px;height:1px;background:#fff"></div>
<div style="position:absolute;left:0;top:2px;width:1205px;height:1px;background:#000"></div>
<div style="position:absolute;left:212px;top:2px;width:106px;height:18px;background:#fff;border:1px solid #000;border-top:none;box-shadow:1px 1px 0 #d8d8d8"></div>
<div style="position:absolute;left:213px;top:1px;width:106px;height:2px;background:#fff"></div>
<span class="tab" id="tab0" style="left:14.5px;letter-spacing:0.2px">USDX,Weekly</span><span class="tab" id="tab1" style="left:114.5px;letter-spacing:0.02px">EURUSD-,Daily</span><span class="tab act" id="tab2" style="left:221.5px;letter-spacing:0.21px">AUDUSD-,Daily</span><span class="tab" id="tab3" style="left:331.5px;letter-spacing:-0.07px">USDCHF-,H4</span><span class="tab" id="tab4" style="left:427.0px;letter-spacing:0.02px">USDCAD-,Daily</span><span class="tab" id="tab5" style="left:535.5px;letter-spacing:0.2px">USDCNH-,Daily</span><span class="tab" id="tab6" style="left:646.5px;letter-spacing:0.15px">XAUUSD-,Daily</span><span class="tab" id="tab7" style="left:753.0px;letter-spacing:0.44px">UKOil-,Weekly</span><span class="tab" id="tab8" style="left:859.5px;letter-spacing:0.23px">DJ30-,Daily</span><span class="tab" id="tab9" style="left:946.5px;letter-spacing:0.29px">UK100-,H1</span><i class="sep" style="left:104px"></i><i class="sep" style="left:416px"></i><i class="sep" style="left:524px"></i><i class="sep" style="left:636px"></i><i class="sep" style="left:744px"></i><i class="sep" style="left:848px"></i><i class="sep" style="left:936px"></i><i class="sep" style="left:1020px"></i>
<div style="position:absolute;left:0;top:22px;width:1205px;height:4px;background:#f9f9f9"></div>
<div style="position:absolute;left:0;top:26px;width:1205px;height:1px;background:#b8b8b8"></div>
<div style="position:absolute;left:0;top:27px;width:1205px;height:2px;background:#fcfcfc"></div>
<div style="position:absolute;left:109px;top:27px;width:1px;height:2px;background:#d0d0d0"></div><div style="position:absolute;left:193px;top:27px;width:1px;height:2px;background:#d0d0d0"></div><div style="position:absolute;left:301px;top:27px;width:1px;height:2px;background:#d0d0d0"></div><div style="position:absolute;left:421px;top:27px;width:1px;height:2px;background:#d0d0d0"></div><div style="position:absolute;left:541px;top:27px;width:1px;height:2px;background:#d0d0d0"></div><div style="position:absolute;left:661px;top:27px;width:1px;height:2px;background:#d0d0d0"></div><div style="position:absolute;left:781px;top:27px;width:1px;height:2px;background:#d0d0d0"></div><div style="position:absolute;left:900px;top:27px;width:1px;height:2px;background:#d0d0d0"></div>
<svg width="1205" height="29" viewBox="0 0 1205 29" style="left:0;top:0"><polygon points="1184.3,7.5 1184.3,14.5 1180.6,11" fill="#8c8c8c"/><polygon points="1199.8,7.5 1199.8,14.5 1203.5,11" fill="#8c8c8c"/></svg>
</div>
</body></html>
